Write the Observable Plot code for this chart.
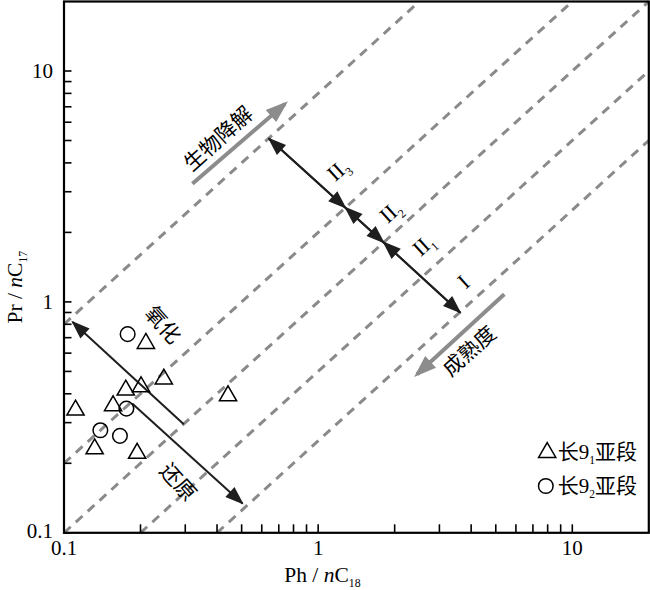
<!DOCTYPE html>
<html><head><meta charset="utf-8">
<script src="https://cdn.jsdelivr.net/npm/d3@7"></script>
<script src="https://cdn.jsdelivr.net/npm/@observablehq/plot@0.6"></script>
<style>body{margin:0;background:#fff}</style>
</head><body><div id="chart"></div>
<script>
// ---- data ----
// 长9_1 subsection (triangles)
const triX = [0.210, 0.247, 0.201, 0.175, 0.156, 0.111, 0.132, 0.194, 0.442];
const triY = [0.661, 0.463, 0.429, 0.415, 0.355, 0.340, 0.231, 0.221, 0.392];
// 长9_2 subsection (circles)
const cirX = [0.178, 0.139, 0.166, 0.176];
const cirY = [0.725, 0.278, 0.263, 0.345];
const seriesNames = ["长9₁亚段", "长9₂亚段"];

// Pr/Ph reference lines (dashed)
const ratioLines = [8, 2, 1, 0.5, 0.25];

// scale domains and ticks
const xDomain = [0.1, 20];
const yDomain = [0.1, 20];
const tickValues = [0.1,0.2,0.3,0.4,0.5,0.6,0.7,0.8,0.9,1,2,3,4,5,6,7,8,9,10];
const labeledTicks = [0.1, 1, 10];
const tickLabels = ["0.1", "1", "10"];

// double-headed zone arrows (II3, II2, II1–I)
const zoneX1 = [0.64, 1.28, 1.81];
const zoneY1 = [5.1, 2.56, 1.81];
const zoneX2 = [1.28, 1.81, 3.62];
const zoneY2 = [2.56, 1.81, 0.90];
const zoneLabels = ["II₃", "II₂", "II₁", "I"];
const zoneLabelX = [1.20, 1.93, 2.60, 3.74];
const zoneLabelY = [3.72, 2.45, 1.76, 1.22];

// single black arrows: 氧化 (oxidation), 还原 (reduction)
const blackX1 = [0.296, 0.1855];
const blackY1 = [0.295, 0.363];
const blackX2 = [0.108, 0.504];
const blackY2 = [0.819, 0.134];

// grey trend arrows: 生物降解 (biodegradation), 成熟度 (maturity)
const greyX1 = [0.32, 5.4];
const greyY1 = [3.25, 1.08];
const greyX2 = [0.74, 2.45];
const greyY2 = [7.2, 0.486];

// text annotations
const upLabels = ["生物降解", "成熟度"];
const upLabelX = [0.406, 3.95];
const upLabelY = [5.07, 0.61];
const downLabels = ["氧化", "还原"];
const downLabelX = [0.244, 0.280];
const downLabelY = [0.793, 0.165];

const xTitle = "Ph / nC₁₈";
const yTitle = "Pr / nC₁₇";

// ---- build tables ----
const tri = triX.map((x, i) => ({x, y: triY[i]}));
const cir = cirX.map((x, i) => ({x, y: cirY[i]}));
const dashed = ratioLines.map(r => {
  const x1 = Math.max(xDomain[0], yDomain[0] / r);
  const x2 = Math.min(xDomain[1], yDomain[1] / r);
  return {x1, y1: x1 * r, x2, y2: x2 * r};
});
const zone = zoneX1.map((x, i) => ({x1: x, y1: zoneY1[i], x2: zoneX2[i], y2: zoneY2[i]}));
const zoneBoth = [...zone, ...zone.map(d => ({x1: d.x2, y1: d.y2, x2: d.x1, y2: d.y1}))];
const blackArr = blackX1.map((x, i) => ({x1: x, y1: blackY1[i], x2: blackX2[i], y2: blackY2[i]}));
const greyArr = greyX1.map((x, i) => ({x1: x, y1: greyY1[i], x2: greyX2[i], y2: greyY2[i]}));
const zoneText = zoneLabels.map((t, i) => ({t, x: zoneLabelX[i], y: zoneLabelY[i]}));
const upText = upLabels.map((t, i) => ({t, x: upLabelX[i], y: upLabelY[i]}));
const downText = downLabels.map((t, i) => ({t, x: downLabelX[i], y: downLabelY[i]}));

const BLACK = "#1e1e1e";
const GREY = "#8c8c8c";
const DASH = "#8a8a8a";
const FONT = "'Liberation Serif', 'Noto Sans CJK SC', serif";
const fmt = d => { const i = labeledTicks.indexOf(d); return i >= 0 ? tickLabels[i] : ""; };

const plot = Plot.plot({
  width: 650, height: 590,
  marginLeft: 63.5, marginRight: 1.7, marginTop: 1, marginBottom: 57.7,
  style: {fontFamily: FONT, fontSize: "21px", background: "white", color: "black"},
  x: {type: "log", domain: xDomain},
  y: {type: "log", domain: yDomain},
  marks: [
    Plot.link(dashed, {x1: "x1", y1: "y1", x2: "x2", y2: "y2", stroke: DASH, strokeWidth: 3, strokeDasharray: "9,7"}),
    Plot.link(greyArr, {x1: "x1", y1: "y1", x2: "x2", y2: "y2", stroke: GREY, strokeWidth: 4, markerEnd: "arrow"}),
    Plot.link(blackArr, {x1: "x1", y1: "y1", x2: "x2", y2: "y2", stroke: BLACK, strokeWidth: 2, markerEnd: "arrow"}),
    Plot.link(zoneBoth, {x1: "x1", y1: "y1", x2: "x2", y2: "y2", stroke: BLACK, strokeWidth: 2, markerEnd: "arrow"}),
    Plot.dot(tri, {x: "x", y: "y", symbol: "triangle", r: 6.4, stroke: "black", strokeWidth: 1.5, fill: "none"}),
    Plot.dot(cir, {x: "x", y: "y", symbol: "circle", r: 7.3, stroke: "black", strokeWidth: 1.5, fill: "none"}),
    Plot.text(zoneText, {x: "x", y: "y", text: "t", rotate: -42, fontSize: 22, fill: "black"}),
    Plot.text(upText, {x: "x", y: "y", text: "t", rotate: -42, fontSize: 21, fill: "black"}),
    Plot.text(downText, {x: "x", y: "y", text: "t", rotate: 48, fontSize: 21, fill: "black"}),
    // legend
    Plot.dot([seriesNames[0]], {x: null, y: null, frameAnchor: "bottom-right", dx: -101.6, dy: -80.3, symbol: "triangle", r: 6.4, stroke: "black", strokeWidth: 1.5, fill: "none"}),
    Plot.dot([seriesNames[1]], {x: null, y: null, frameAnchor: "bottom-right", dx: -103, dy: -46.8, symbol: "circle", r: 7.3, stroke: "black", strokeWidth: 1.5, fill: "none"}),
    Plot.text([seriesNames[0]], {frameAnchor: "bottom-right", textAnchor: "start", lineAnchor: "middle", dx: -91, dy: -81, fontSize: 21, fill: "black"}),
    Plot.text([seriesNames[1]], {frameAnchor: "bottom-right", textAnchor: "start", lineAnchor: "middle", dx: -91, dy: -46.5, fontSize: 21, fill: "black"}),
    // axis titles
    Plot.text([xTitle], {frameAnchor: "bottom", textAnchor: "middle", lineAnchor: "bottom", dx: -34, dy: 49, fontSize: 21.5, fill: "black"}),
    Plot.text([yTitle], {frameAnchor: "left", textAnchor: "middle", lineAnchor: "middle", rotate: -90, dx: -49, dy: 20, fontSize: 21.5, fill: "black"}),
    Plot.frame({stroke: "black", strokeWidth: 2.2}),
    Plot.axisX({anchor: "bottom", ticks: tickValues, tickFormat: fmt, tickSize: -8, tickPadding: 15, strokeWidth: 1.6}),
    Plot.axisY({anchor: "left", ticks: tickValues, tickFormat: fmt, tickSize: -8, tickPadding: 19, strokeWidth: 1.6})
  ]
});

// filled arrowheads
plot.querySelectorAll("marker").forEach(m => {
  const col = m.getAttribute("stroke");
  const grey = col === GREY;
  m.setAttribute("viewBox", "-10 -5 12 10");
  m.setAttribute("markerWidth", 12);
  m.setAttribute("markerHeight", 10);
  m.setAttribute("fill", col);
  m.setAttribute("stroke", "none");
  const p = m.querySelector("path");
  if (p) p.setAttribute("d", grey ? "M-4.6,-2L1,0L-4.6,2Z" : "M-8.5,-3.4L0.8,0L-8.5,3.4Z");
});

// the lowest y tick label sits slightly above its tick in the reference
plot.querySelectorAll('g[aria-label="y-axis tick label"] text').forEach(t => {
  if (t.textContent === tickLabels[0]) t.setAttribute("dy", "-0.05em");
});

// subscripts and italic n
const SUB = "₀₁₂₃₄₅₆₇₈₉";
const NS = "http://www.w3.org/2000/svg";
plot.querySelectorAll("text").forEach(t => {
  const s = t.textContent;
  if (!/[₀-₉]|nC/.test(s)) return;
  const segs = [];
  for (let i = 0; i < s.length; i++) {
    const ch = s[i];
    const type = SUB.includes(ch) ? "sub" : (ch === "n" && s[i + 1] === "C" ? "it" : "norm");
    const c = type === "sub" ? String(SUB.indexOf(ch)) : ch;
    if (segs.length && segs[segs.length - 1].type === type) segs[segs.length - 1].text += c;
    else segs.push({type, text: c});
  }
  t.textContent = "";
  let lowered = false;
  for (const seg of segs) {
    const ts = document.createElementNS(NS, "tspan");
    ts.textContent = seg.text;
    if (seg.type === "sub") {
      ts.setAttribute("font-size", "0.55em");
      ts.setAttribute("dy", "0.45em");
      lowered = true;
    } else {
      if (lowered) { ts.setAttribute("dy", "-0.2475em"); lowered = false; }
      if (seg.type === "it") ts.setAttribute("font-style", "italic");
    }
    t.appendChild(ts);
  }
});

document.getElementById("chart").appendChild(plot);
</script>
</body></html>
